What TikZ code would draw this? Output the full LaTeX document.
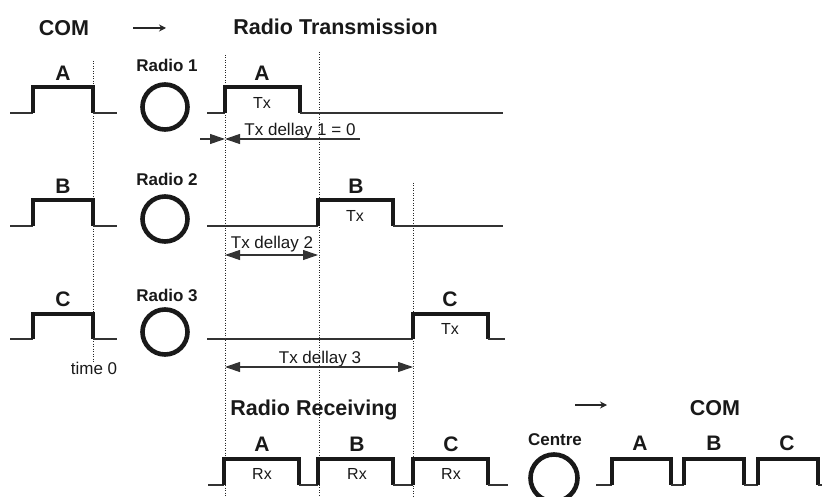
\documentclass[tikz,border=0pt]{standalone}
\usepackage{fontspec}
\setmainfont{Liberation Sans}
\usetikzlibrary{arrows.meta}
\tikzset{
  pulse/.style={line width=3.6pt, line join=miter, line cap=butt, black!90},
  baseln/.style={line width=1.3pt, black!80},
  vdot/.style={line width=0.9pt, dash pattern=on 1pt off 1.5pt, black!85},
  radio/.style={circle, draw=black!90, line width=4.6pt, minimum size=45pt, inner sep=0pt},
  ttl/.style={anchor=base, inner sep=0pt, font=\fontsize{21.5}{24}\selectfont\bfseries, text=black!90},
  lab/.style={anchor=base, inner sep=0pt, font=\fontsize{21}{23}\selectfont\bfseries, text=black!90},
  rlab/.style={anchor=base, inner sep=0pt, font=\fontsize{17}{19}\selectfont\bfseries, text=black!90},
  txl/.style={anchor=base, inner sep=0pt, font=\fontsize{16}{18}\selectfont, text=black!90},
  dlab/.style={anchor=base, inner sep=0pt, font=\fontsize{17}{19}\selectfont, text=black!90},
  dimline/.style={line width=1.1pt, black!80},
  tip/.tip={Triangle[length=15pt,width=10pt]},
  harrow/.style={line width=1.3pt, black!85, -{Stealth[length=7pt,width=7pt]}}
}
\begin{document}
\begin{tikzpicture}[x=1pt,y=-1pt]
\useasboundingbox (0,0) rectangle (822,497);

% titles
\node[ttl] (com1) at (64,35.7) {COM};
\coordinate (ar1a) at (133,28);
\coordinate (ar1b) at (166,28);
\draw[harrow] (ar1a) -- (ar1b);
\node[ttl] (rtx) at (335.5,35) {Radio Transmission};

% dotted verticals
\coordinate (v0t) at (93,61);   \coordinate (v0b) at (93,362);
\coordinate (v1t) at (225,55);  \coordinate (v1b) at (225,497);
\coordinate (v2t) at (319,52);  \coordinate (v2b) at (319,497);
\coordinate (v3t) at (413,183); \coordinate (v3b) at (413,497);
\draw[vdot] (v0t) -- (v0b);
\draw[vdot] (v1t) -- (v1b);
\draw[vdot] (v2t) -- (v2b);
\draw[vdot] (v3t) -- (v3b);

% ---------- Row A ----------
\draw[baseln] (10,113) -- (33,113);
\draw[pulse] (33,113) -- (33,87) -- (93,87) -- (93,113);
\draw[baseln] (93,113) -- (117,113);
\node[lab] (la) at (63,80.5) {A};
\node[rlab] (r1l) at (167,72) {Radio 1};
\node[radio] (r1) at (165,107) {};
\draw[baseln] (207,113) -- (225,113);
\draw[pulse] (225,113) -- (225,87) -- (300,87) -- (300,113);
\draw[baseln] (300,113) -- (503,113);
\node[lab] (ta) at (262,80.5) {A};
\node[txl] (txa) at (262,108.5) {Tx};
\node[dlab] (d1) at (300,136) {Tx dellay 1 = 0};
\coordinate (d1l) at (200,139);
\coordinate (d1m) at (225,139);
\coordinate (d1r) at (360,139);
\draw[dimline, -tip] (d1l) -- (d1m);
\draw[dimline, -tip] (d1r) -- (d1m);

% ---------- Row B ----------
\draw[baseln] (10,226) -- (33,226);
\draw[pulse] (33,226) -- (33,200) -- (93,200) -- (93,226);
\draw[baseln] (93,226) -- (117,226);
\node[lab] (lb) at (63,193.5) {B};
\node[rlab] (r2l) at (167,186) {Radio 2};
\node[radio] (r2) at (165,219) {};
\draw[baseln] (207,226) -- (318,226);
\draw[pulse] (318,226) -- (318,200) -- (393,200) -- (393,226);
\draw[baseln] (393,226) -- (503,226);
\node[lab] (tb) at (356,193.5) {B};
\node[txl] (txb) at (355,221.5) {Tx};
\node[dlab] (d2) at (272,248) {Tx dellay 2};
\coordinate (d2l) at (225,255);
\coordinate (d2r) at (318,255);
\draw[dimline, tip-tip] (d2l) -- (d2r);

% ---------- Row C ----------
\draw[baseln] (10,339) -- (33,339);
\draw[pulse] (33,339) -- (33,314) -- (93,314) -- (93,339);
\draw[baseln] (93,339) -- (117,339);
\node[lab] (lc) at (63,306.5) {C};
\node[rlab] (r3l) at (167,301) {Radio 3};
\node[radio] (r3) at (165,332) {};
\node[dlab] (t0) at (94,374) {time 0};
\draw[baseln] (207,339) -- (413,339);
\draw[pulse] (413,339) -- (413,314) -- (488,314) -- (488,339);
\draw[baseln] (488,339) -- (505,339);
\node[lab] (tc) at (450,306.5) {C};
\node[txl] (txc) at (450,334.5) {Tx};
\node[dlab] (d3) at (320,363) {Tx dellay 3};
\coordinate (d3l) at (225,367);
\coordinate (d3r) at (413,367);
\draw[dimline, tip-tip] (d3l) -- (d3r);

% ---------- Receiving ----------
\node[ttl] (rrx) at (314,415) {Radio Receiving};
\coordinate (ar2a) at (575,405);
\coordinate (ar2b) at (607,405);
\draw[harrow] (ar2a) -- (ar2b);
\node[ttl] (com2) at (715,415) {COM};

\draw[baseln] (208,485) -- (224,485);
\draw[pulse] (224,485) -- (224,459) -- (299,459) -- (299,485);
\draw[baseln] (299,485) -- (318,485);
\draw[pulse] (318,485) -- (318,459) -- (393,459) -- (393,485);
\draw[baseln] (393,485) -- (413,485);
\draw[pulse] (413,485) -- (413,459) -- (488,459) -- (488,485);
\draw[baseln] (488,485) -- (508,485);
\node[lab] (ra) at (262,451.5) {A};
\node[lab] (rb) at (357,451.5) {B};
\node[lab] (rc) at (451,451.5) {C};
\node[txl] (rxa) at (262,479) {Rx};
\node[txl] (rxb) at (357,479) {Rx};
\node[txl] (rxc) at (451,479) {Rx};

\node[rlab] (cl) at (555,445) {Centre};
\node[radio, minimum size=47pt] (cen) at (554,478) {};

\draw[baseln] (596,485) -- (612,485);
\draw[pulse] (612,485) -- (612,459) -- (671,459) -- (671,485);
\draw[baseln] (671,485) -- (684,485);
\draw[pulse] (684,485) -- (684,459) -- (744,459) -- (744,485);
\draw[baseln] (744,485) -- (758,485);
\draw[pulse] (758,485) -- (758,459) -- (818,459) -- (818,485);
\draw[baseln] (818,485) -- (822,485);
\node[lab] (oa) at (640,450.5) {A};
\node[lab] (ob) at (714,450.5) {B};
\node[lab] (oc) at (787,450.5) {C};
\end{tikzpicture}
\end{document}
